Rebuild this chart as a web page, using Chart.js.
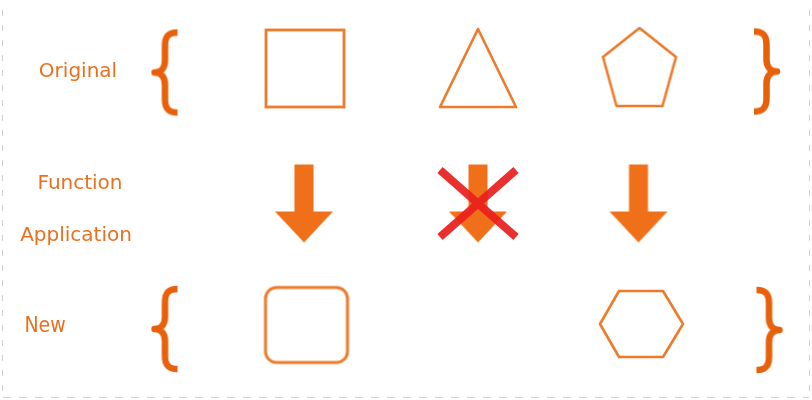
<!DOCTYPE html>
<html>
<head>
<meta charset="utf-8">
<script src="https://cdn.jsdelivr.net/npm/chart.js@4/dist/chart.umd.min.js"></script>
<style>
    html, body { margin: 0; padding: 0; background: #ffffff; }
    #wrap { width: 812px; height: 400px; }
</style>
</head>
<body>
<div id="wrap"><canvas id="chart" width="812" height="400"></canvas></div>
<script>
// row labels on the left
const rowLabels = ['Original', 'Function', 'Application', 'New'];
const labelX = [78, 80, 76, 45];
const labelY = [72, 184, 236, 327];

// first row: the original shapes
const originalShapes = ['square', 'triangle', 'pentagon'];
const originalX = [305, 478, 639.5];
const originalY = [68.5, 68, 67];

// middle row: function application arrows, the middle one is crossed out
const arrowX = [304, 478, 638.5];
const arrowY = [203.5, 203.5, 203.5];
const crossX = [478];
const crossY = [204];

// last row: the new shapes (nothing comes out of the triangle)
const newShapes = ['rounded', 'hexagon'];
const newX = [306.5, 641.5];
const newY = [325, 324];

// braces around the first and last rows
const braceSides = ['left', 'right', 'left', 'right'];
const braceX = [165.5, 766, 165.5, 768.5];
const braceY = [72.5, 71.5, 329, 330];

const outlineColor = '#ee7a2b';
const arrowColor = '#f07019';
const braceColor = '#e9600b';
const crossColor = 'rgba(232, 30, 28, 0.92)';
const textColor = '#e8701e';

function makeImage(width, height, draw) {
    const canvas = document.createElement('canvas');
    canvas.width = width;
    canvas.height = height;
    const ctx = canvas.getContext('2d');
    draw(ctx, width, height);

    return canvas;
}

function strokePolygon(ctx, points) {
    ctx.beginPath();
    points.forEach(([x, y], i) => (i === 0 ? ctx.moveTo(x, y) : ctx.lineTo(x, y)));
    ctx.closePath();
    ctx.strokeStyle = outlineColor;
    ctx.lineWidth = 2.6;
    ctx.lineJoin = 'round';
    ctx.stroke();
}

const shapeImages = {
    square: makeImage(84, 83, (ctx) => {
        ctx.strokeStyle = outlineColor;
        ctx.lineWidth = 2.8;
        ctx.strokeRect(3, 3, 78, 77);
    }),
    triangle: makeImage(84, 86, (ctx) => {
        strokePolygon(ctx, [[42, 4], [80, 82], [4, 82]]);
    }),
    pentagon: makeImage(80, 84, (ctx) => {
        strokePolygon(ctx, [[40, 3], [76.5, 32], [63, 81], [17, 81], [3.5, 32]]);
    }),
    rounded: makeImage(88, 81, (ctx) => {
        ctx.beginPath();
        ctx.roundRect(3, 3, 82, 75, 11);
        ctx.strokeStyle = outlineColor;
        ctx.lineWidth = 3;
        ctx.stroke();
    }),
    hexagon: makeImage(89, 72, (ctx) => {
        strokePolygon(ctx, [[3, 36], [22, 3], [66, 3], [86, 36], [66, 69], [22, 69]]);
    }),
};

const arrowImage = makeImage(60, 80, (ctx) => {
    ctx.beginPath();
    ctx.moveTo(20.5, 1);
    ctx.lineTo(39.5, 1);
    ctx.lineTo(39.5, 48);
    ctx.lineTo(59, 48);
    ctx.lineTo(30, 79);
    ctx.lineTo(1, 48);
    ctx.lineTo(20.5, 48);
    ctx.closePath();
    ctx.fillStyle = arrowColor;
    ctx.fill();
});

const crossImage = makeImage(86, 78, (ctx) => {
    ctx.strokeStyle = crossColor;
    ctx.lineWidth = 8;
    ctx.lineCap = 'butt';
    ctx.beginPath();
    ctx.moveTo(5, 5);
    ctx.lineTo(81, 72);
    ctx.moveTo(81, 5);
    ctx.lineTo(5, 72);
    ctx.stroke();
});

function braceImage(side) {
    return makeImage(30, 90, (ctx, w, h) => {
        if (side === 'right') {
            ctx.translate(w, 0);
            ctx.scale(-1, 1);
        }
        const mid = h / 2;
        ctx.beginPath();
        ctx.moveTo(27, 5);
        ctx.bezierCurveTo(18, 5, 14.5, 9, 14.5, 18);
        ctx.lineTo(14.5, mid - 12);
        ctx.bezierCurveTo(14.5, mid - 4, 10, mid, 4, mid);
        ctx.bezierCurveTo(10, mid, 14.5, mid + 4, 14.5, mid + 12);
        ctx.lineTo(14.5, h - 18);
        ctx.bezierCurveTo(14.5, h - 9, 18, h - 5, 27, h - 5);
        ctx.strokeStyle = braceColor;
        ctx.lineWidth = 6.5;
        ctx.lineJoin = 'round';
        ctx.stroke();
    });
}

const braceImages = { left: braceImage('left'), right: braceImage('right') };

function points(xs, ys) {
    return xs.map((x, i) => ({ x, y: ys[i] }));
}

const frameAndLabels = {
    id: 'frameAndLabels',
    beforeDatasetsDraw(chart) {
        const { ctx, chartArea } = chart;
        ctx.save();
        ctx.strokeStyle = '#cfcfcf';
        ctx.lineWidth = 1;
        ctx.setLineDash([6, 9]);
        ctx.beginPath();
        ctx.moveTo(chartArea.left + 2.5, chartArea.top + 10);
        ctx.lineTo(chartArea.left + 2.5, chartArea.bottom - 3);
        ctx.moveTo(chartArea.right - 2.5, chartArea.top + 10);
        ctx.lineTo(chartArea.right - 2.5, chartArea.bottom - 3);
        ctx.stroke();
        ctx.setLineDash([8, 8]);
        ctx.beginPath();
        ctx.moveTo(chartArea.left + 3, chartArea.bottom - 2.5);
        ctx.lineTo(chartArea.right - 3, chartArea.bottom - 2.5);
        ctx.stroke();
        ctx.restore();
    },
    afterDatasetsDraw(chart) {
        const { ctx, scales } = chart;
        ctx.save();
        ctx.fillStyle = textColor;
        ctx.textAlign = 'center';
        ctx.textBaseline = 'middle';
        rowLabels.forEach((label, i) => {
            ctx.font = label === 'New'
                ? '21px "Liberation Sans Narrow", "DejaVu Sans Condensed", sans-serif'
                : '20px "DejaVu Sans", sans-serif';
            ctx.fillText(label, scales.x.getPixelForValue(labelX[i]), scales.y.getPixelForValue(labelY[i]));
        });
        ctx.restore();
    },
};

new Chart(document.getElementById('chart'), {
    type: 'scatter',
    data: {
        datasets: [
            {
                label: 'Not applicable',
                data: points(crossX, crossY),
                pointStyle: crossImage,
                order: 0,
            },
            {
                label: 'Original',
                data: points(originalX, originalY),
                pointStyle: originalShapes.map((name) => shapeImages[name]),
                order: 1,
            },
            {
                label: 'Function application',
                data: points(arrowX, arrowY),
                pointStyle: arrowImage,
                order: 1,
            },
            {
                label: 'New',
                data: points(newX, newY),
                pointStyle: newShapes.map((name) => shapeImages[name]),
                order: 1,
            },
            {
                label: 'Braces',
                data: points(braceX, braceY),
                pointStyle: braceSides.map((side) => braceImages[side]),
                order: 1,
            },
        ],
    },
    options: {
        responsive: false,
        animation: false,
        devicePixelRatio: 1,
        layout: { padding: 0, autoPadding: false },
        elements: { point: { radius: 10, hoverRadius: 10 } },
        plugins: {
            legend: { display: false },
            tooltip: { enabled: false },
        },
        scales: {
            x: { type: 'linear', min: 0, max: 812, display: false },
            y: { type: 'linear', min: 0, max: 400, reverse: true, display: false },
        },
    },
    plugins: [frameAndLabels],
});
</script>
</body>
</html>
